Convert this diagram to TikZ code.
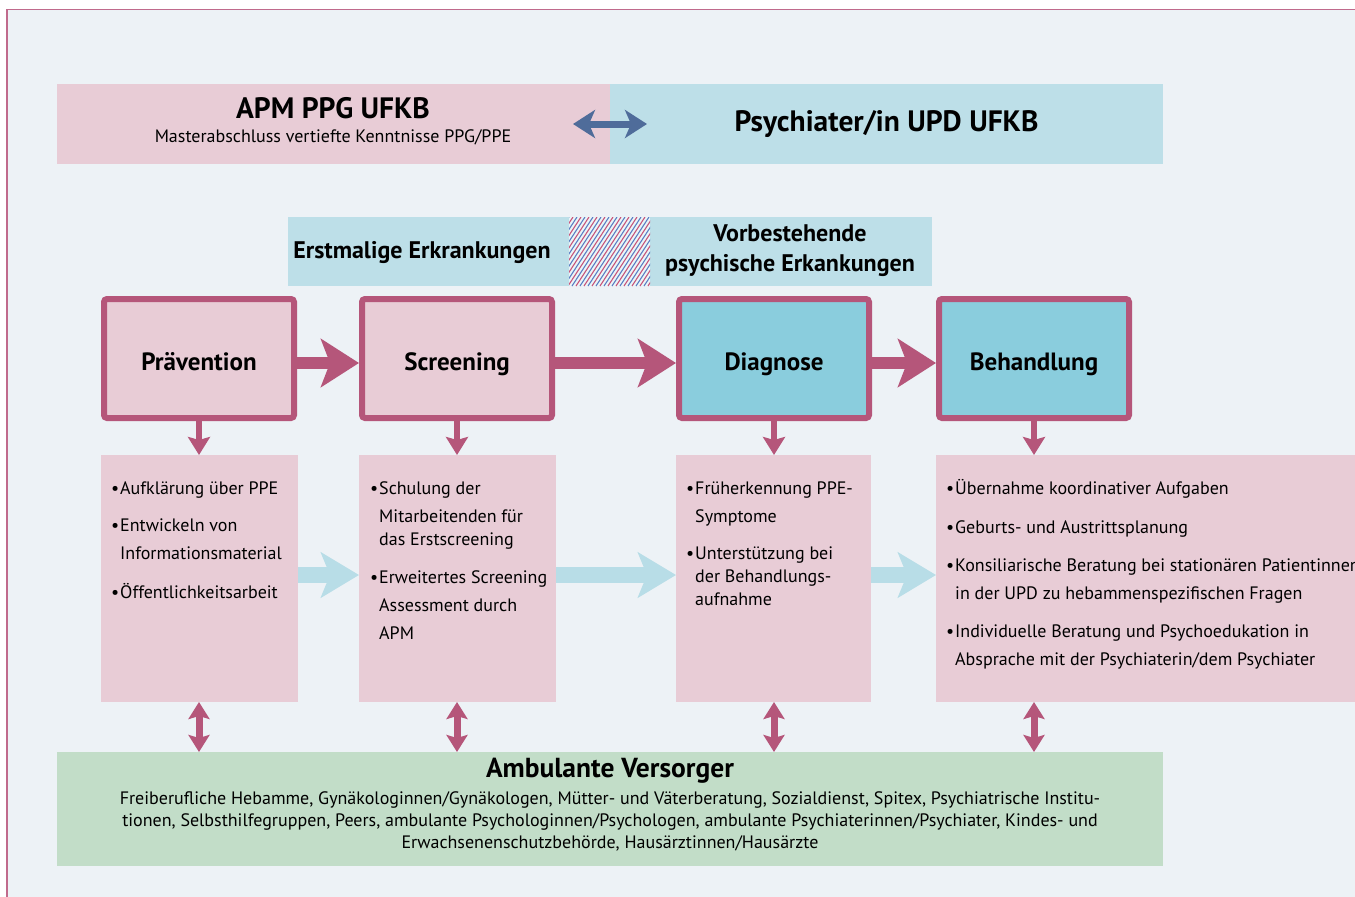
\documentclass[tikz,border=0pt]{standalone}
\usepackage{fontspec}
\setmainfont{PT Sans}
\usetikzlibrary{positioning,arrows.meta,calc}

\definecolor{bgc}{HTML}{EDF2F6}
\definecolor{framec}{HTML}{C06A8C}
\definecolor{pinkc}{HTML}{E8CCD6}
\definecolor{bluec}{HTML}{BDDFE8}
\definecolor{diac}{HTML}{8ACDDD}
\definecolor{boxc}{HTML}{B5567A}
\definecolor{arrbc}{HTML}{4F6C9A}
\definecolor{lbc}{HTML}{B8DDE7}
\definecolor{greenc}{HTML}{C2DDC8}
\definecolor{hatchr}{HTML}{C8557A}
\definecolor{hatchb}{HTML}{5A7FC4}

\newcommand{\bul}{\makebox[9pt][l]{\textbullet}}
\newcommand{\ind}{\hspace*{9pt}}

\begin{document}
\begin{tikzpicture}[
  x=1pt, y=-1pt,
  area/.style  = {inner sep=0pt, outer sep=0pt, anchor=north west},
  pinkarea/.style = {area, fill=pinkc},
  bluearea/.style = {area, fill=bluec},
  stage/.style = {area, draw=boxc, line width=6pt, rounded corners=3pt,
                  outer sep=3pt, minimum width=190pt, minimum height=119pt,
                  text height=28pt, text depth=5pt,
                  font=\fontsize{25}{28}\selectfont\bfseries},
  detail/.style= {pinkarea, minimum height=247pt},
  items/.style = {anchor=north west, inner sep=0pt, align=left,
                  font=\fontsize{18}{28}\selectfont},
  bigarr/.style= {draw=boxc, line width=12pt,
                  -{Stealth[length=38pt,width=48pt,inset=9pt]}},
  lbarr/.style = {draw=lbc, line width=16pt,
                  -{Stealth[length=38pt,width=45pt,inset=9pt]}},
  dnarr/.style = {draw=boxc, line width=6.5pt,
                  -{Stealth[length=18pt,width=22pt,inset=3pt]}},
  dblarr/.style= {draw=boxc, line width=7pt,
                  {Stealth[length=17pt,width=21pt,inset=3pt]}-{Stealth[length=17pt,width=21pt,inset=3pt]}},
]
\useasboundingbox (0,0) rectangle (1355,897);

% ======================= frame ========================================
\fill[bgc] (7,9.5) rectangle (1360,900);
\draw[framec, line width=1.5pt] (7,900) -- (7,9.5) -- (1360,9.5);

% ======================= top banner ===================================
\node[pinkarea, minimum width=553pt, minimum height=80pt] (apm) at (57,84) {};
\node[font=\fontsize{29.5}{32}\selectfont\bfseries] (apmT) at (333,108) {APM PPG UFKB};
\node[font=\fontsize{18}{20}\selectfont] (apmS) at (333,137) {Masterabschluss vertiefte Kenntnisse PPG/PPE};
\node[bluearea, minimum width=553pt, minimum height=80pt,
      font=\fontsize{29.5}{32}\selectfont\bfseries] (psy) at (610,84) {Psychiater/in UPD UFKB};
\draw[draw=arrbc, line width=7pt,
      {Stealth[length=22pt,width=28pt,inset=6pt]}-{Stealth[length=22pt,width=28pt,inset=6pt]}]
  ([xshift=-37pt]apm.east) -- ([xshift=37pt]psy.west);

% ======================= onset band ===================================
\node[bluearea, minimum width=644pt, minimum height=69pt] (band) at (288,217) {};
\begin{scope}
  \clip (569,217) rectangle (650,286);
  \fill[white!70!bluec] (569,217) rectangle (650,286);
  \foreach \i in {0,...,17} {
    \draw[hatchr, line width=1.1pt] (520+\i*8,286) -- ++(45,-69);
    \draw[hatchb, line width=1.1pt] (524+\i*8,286) -- ++(45,-69);
  }
\end{scope}
\node[font=\fontsize{24}{28}\selectfont\bfseries] (erst) at (422,253) {Erstmalige Erkrankungen};
\node[font=\fontsize{24}{30}\selectfont\bfseries, align=center] (vorb) at (790,251)
  {Vorbestehende\\psychische Erkankungen};

% ======================= stages =======================================
\node[stage, fill=pinkc] (prv) at (101,296) {Prävention};
\node[stage, fill=pinkc] (scr) at (359,296) {Screening};
\node[stage, fill=diac]  (dia) at (676,296) {Diagnose};
\node[stage, fill=diac]  (beh) at (936,296) {Behandlung};

\draw[bigarr] ([yshift=-4.5pt]prv.east) -- ([yshift=-4.5pt]scr.west);
\draw[bigarr] ([yshift=-4.5pt]scr.east) -- ([yshift=-4.5pt]dia.west);
\draw[bigarr] ([yshift=-4.5pt]dia.east) -- ([yshift=-4.5pt]beh.west);

% ======================= details ======================================
\node[detail, minimum width=197pt] (prvD) at (101,455) {};
\node[detail, minimum width=197pt] (scrD) at (359,455) {};
\node[detail, minimum width=195pt] (diaD) at (676,455) {};
\node[detail, minimum width=440pt] (behD) at (936,455) {};

\node[items] (prvT) at (111,481)
  {\bul Aufklärung über PPE\\[9pt]
   \bul Entwickeln von\\ \ind Informationsmaterial\\[11pt]
   \bul Öffentlichkeitsarbeit};
\node[items] (scrT) at (370,481)
  {\bul Schulung der\\ \ind Mitarbeitenden für\\[-5pt] \ind das Erstscreening\\[10pt]
   \bul Erweitertes Screening\\ \ind Assessment durch\\ \ind APM};
\node[items] (diaT) at (686,482)
  {\bul Früherkennung PPE-\\ \ind Symptome\\[9pt]
   \bul Unterstützung bei\\[-5pt] \ind der Behandlungs-\\[-5pt] \ind aufnahme};
\node[items] (behT) at (946,479)
  {\bul Übernahme koordinativer Aufgaben\\[11pt]
   \bul Geburts- und Austrittsplanung\\[10pt]
   \bul Konsiliarische Beratung bei stationären Patientinnen\\ \ind in der UPD zu hebammenspezifischen Fragen\\[10pt]
   \bul Individuelle Beratung und Psychoedukation in\\ \ind Absprache mit der Psychiaterin/dem Psychiater};

\draw[lbarr] ([yshift=3.5pt]prvD.east) -- ([yshift=3.5pt]scrD.west);
\draw[lbarr] ([yshift=3.5pt]scrD.east) -- ([yshift=3.5pt]diaD.west);
\draw[lbarr] ([yshift=3.5pt]diaD.east) -- ([yshift=3.5pt]behD.west);

% ======================= ambulant care ================================
\node[area, fill=greenc, minimum width=1106pt, minimum height=114pt] (amb) at (57,752) {};
\node[font=\fontsize{27.5}{30}\selectfont\bfseries] (ambT) at (610,771) {Ambulante Versorger};
\node[font=\fontsize{18}{22}\selectfont, align=center, anchor=north] (ambL) at (610,788)
  {Freiberufliche Hebamme, Gynäkologinnen/Gynäkologen, Mütter- und Väterberatung, Sozialdienst, Spitex, Psychiatrische Institu-\\
   tionen, Selbsthilfegruppen, Peers, ambulante Psychologinnen/Psychologen, ambulante Psychiaterinnen/Psychiater, Kindes- und\\
   Erwachsenenschutzbehörde, Hausärztinnen/Hausärzte};

\foreach \a in {prv,scr,dia,beh} {
  \draw[dnarr]  (\a.south) -- (\a.south |- \a D.north);
  \draw[dblarr] (\a.south |- \a D.south) -- (\a.south |- amb.north);
}

\end{tikzpicture}
\end{document}
